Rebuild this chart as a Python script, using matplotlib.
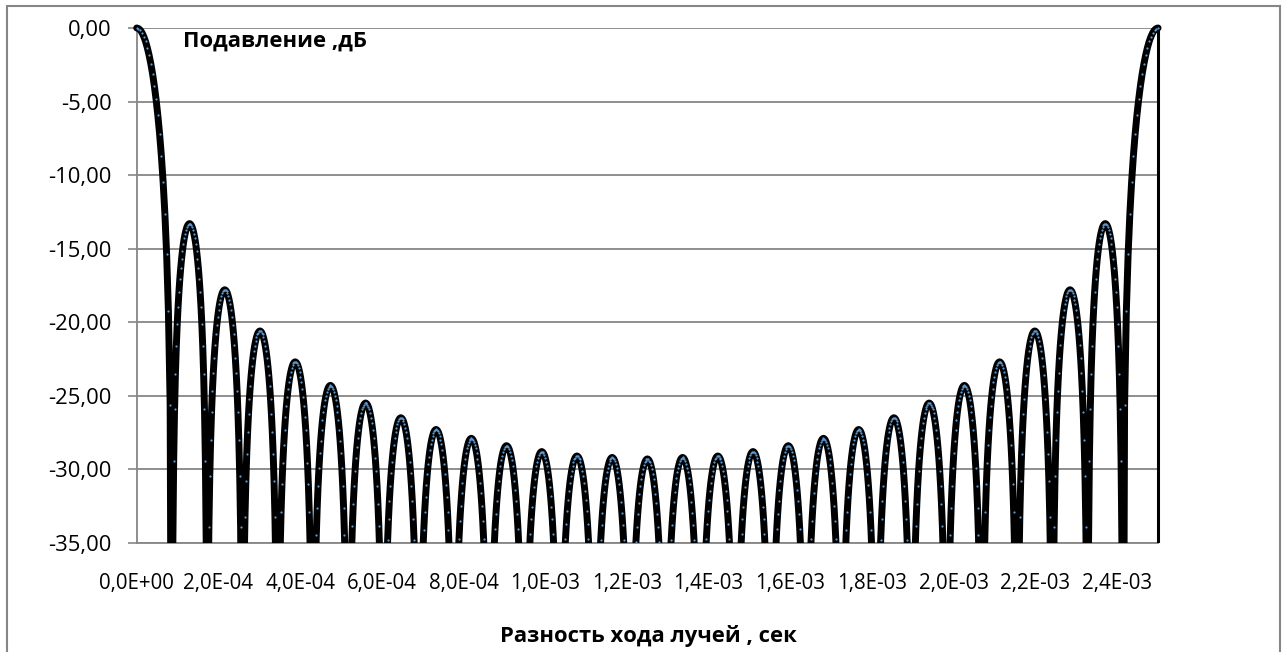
import matplotlib
matplotlib.use('Agg')
import matplotlib.pyplot as plt
from matplotlib.ticker import FuncFormatter
from matplotlib.patches import Rectangle

plt.rcParams['font.family'] = ['Open Sans', 'DejaVu Sans']

# период диаграммы по разности хода, сек
period = 2.5e-3

# положения нулей, сек
null_x = [8.62e-5, 1.724e-4, 2.586e-4, 3.448e-4, 4.310e-4, 5.172e-4, 6.034e-4,
          6.897e-4, 7.759e-4, 8.621e-4, 9.483e-4, 1.0345e-3, 1.1207e-3, 1.2069e-3,
          1.2931e-3, 1.3793e-3, 1.4655e-3, 1.5517e-3, 1.6379e-3, 1.7241e-3, 1.8103e-3,
          1.8966e-3, 1.9828e-3, 2.0690e-3, 2.1552e-3, 2.2414e-3, 2.3276e-3, 2.4138e-3]

# уровни лепестков, дБ: главный, 27 боковых, главный
lobe_db = [0.0,
           -13.3, -17.8, -20.6, -22.7, -24.3, -25.5, -26.5, -27.3, -27.9, -28.4,
           -28.8, -29.1, -29.2, -29.3, -29.2, -29.1, -28.8, -28.4, -27.9, -27.3,
           -26.5, -25.5, -24.3, -22.7, -20.6, -17.8, -13.3,
           0.0]

# форма главного лепестка: доля пути до первого нуля и спад, дБ
main_t = [0.0, 0.05, 0.10, 0.15, 0.20, 0.25, 0.30, 0.35, 0.40, 0.45, 0.50,
          0.55, 0.60, 0.65, 0.70, 0.75, 0.80, 0.85, 0.90, 0.95, 1.0]
main_drop = [0.0, -0.04, -0.14, -0.32, -0.58, -0.91, -1.33, -1.83, -2.42, -3.11, -3.92,
             -4.86, -5.94, -7.20, -8.69, -10.45, -12.62, -15.39, -19.23, -25.61, -60.0]

# форма бокового лепестка (от нуля до вершины), спад, дБ
side_t = [0.0, 0.025, 0.05, 0.075, 0.10, 0.125, 0.15, 0.175, 0.20, 0.225, 0.25,
          0.275, 0.30, 0.325, 0.35, 0.375, 0.40, 0.425, 0.45, 0.475, 0.5]
side_drop = [-60.0, -22.11, -16.11, -12.64, -10.20, -8.34, -6.86, -5.64, -4.62, -3.75, -3.01,
             -2.38, -1.84, -1.38, -1.00, -0.69, -0.44, -0.24, -0.11, -0.03, 0.0]

x_ticks = [0.0, 2e-4, 4e-4, 6e-4, 8e-4, 1.0e-3, 1.2e-3, 1.4e-3, 1.6e-3, 1.8e-3,
           2.0e-3, 2.2e-3, 2.4e-3]
y_ticks = [0, -5, -10, -15, -20, -25, -30, -35]

# собираем кривую по лепесткам
xs, ys = [], []
for t, d in zip(main_t, main_drop):
    xs.append(t * null_x[0])
    ys.append(lobe_db[0] + d)

t_full = side_t + [1 - t for t in side_t[::-1][1:]]
d_full = side_drop + side_drop[::-1][1:]
for k in range(len(null_x) - 1):
    a, b = null_x[k], null_x[k + 1]
    for t, d in zip(t_full, d_full):
        xs.append(a + t * (b - a))
        ys.append(lobe_db[k + 1] + d)

for t, d in zip(main_t[::-1], main_drop[::-1]):
    xs.append(period - t * (period - null_x[-1]))
    ys.append(lobe_db[-1] + d)

grey = '#868686'

fig = plt.figure(figsize=(12.86, 6.52), dpi=100)
ax = fig.add_axes([0.1063, 0.1676, 0.7942, 0.7895])

# обрезка только снизу, сверху и по бокам линия не режется
clip = Rectangle((-0.05, 0.0), 1.1, 1.1, transform=ax.transAxes)
line, = ax.plot(xs, ys, color='black', lw=5.0, solid_joinstyle='round',
                solid_capstyle='round', zorder=3)
dots, = ax.plot(xs, ys, ls='none', marker='o', ms=1.6, mfc='#5b9bd5', mec='none', zorder=4)
# провал сразу за концом периода - тонкая линия без маркеров
tail, = ax.plot([xs[-1], period], [ys[-1], main_drop[-1]], color='black', lw=2.2, zorder=3)
for art in (line, dots, tail):
    art.set_clip_path(clip)

ax.set_xlim(0, period)
ax.set_ylim(-35, 0)
ax.set_xticks(x_ticks)
ax.set_yticks(y_ticks)
ax.xaxis.set_major_formatter(FuncFormatter(lambda v, p: f"{v:.1E}".replace('.', ',')))
ax.yaxis.set_major_formatter(FuncFormatter(lambda v, p: f"{v:.2f}".replace('.', ',')))

ax.grid(axis='y', color=grey, lw=1.3)
ax.set_axisbelow(True)
for s in ['top', 'right']:
    ax.spines[s].set_visible(False)
for s in ['left', 'bottom']:
    ax.spines[s].set_color(grey)
    ax.spines[s].set_linewidth(1.3)

ax.tick_params(axis='y', direction='out', length=6.5, width=1.2, color=grey,
               labelsize=15.8, pad=11.5)
ax.tick_params(axis='x', length=0, labelsize=14.8, pad=22)

fig.text(183 / 1286, 1 - 46.7 / 652, 'Подавление ,дБ', fontsize=15.8,
         fontweight='bold', ha='left', va='baseline')
fig.text(648 / 1286, 1 - 641.7 / 652, 'Разность хода лучей , сек', fontsize=15.8,
         fontweight='bold', ha='center', va='baseline')

# рамка области диаграммы
fig.patches.append(Rectangle((7 / 1286, -0.1), 1273 / 1286, 1.1 - 5.7 / 652,
                             transform=fig.transFigure, fill=False, ec=grey, lw=1.5))

fig.savefig('out.png', dpi=100)
